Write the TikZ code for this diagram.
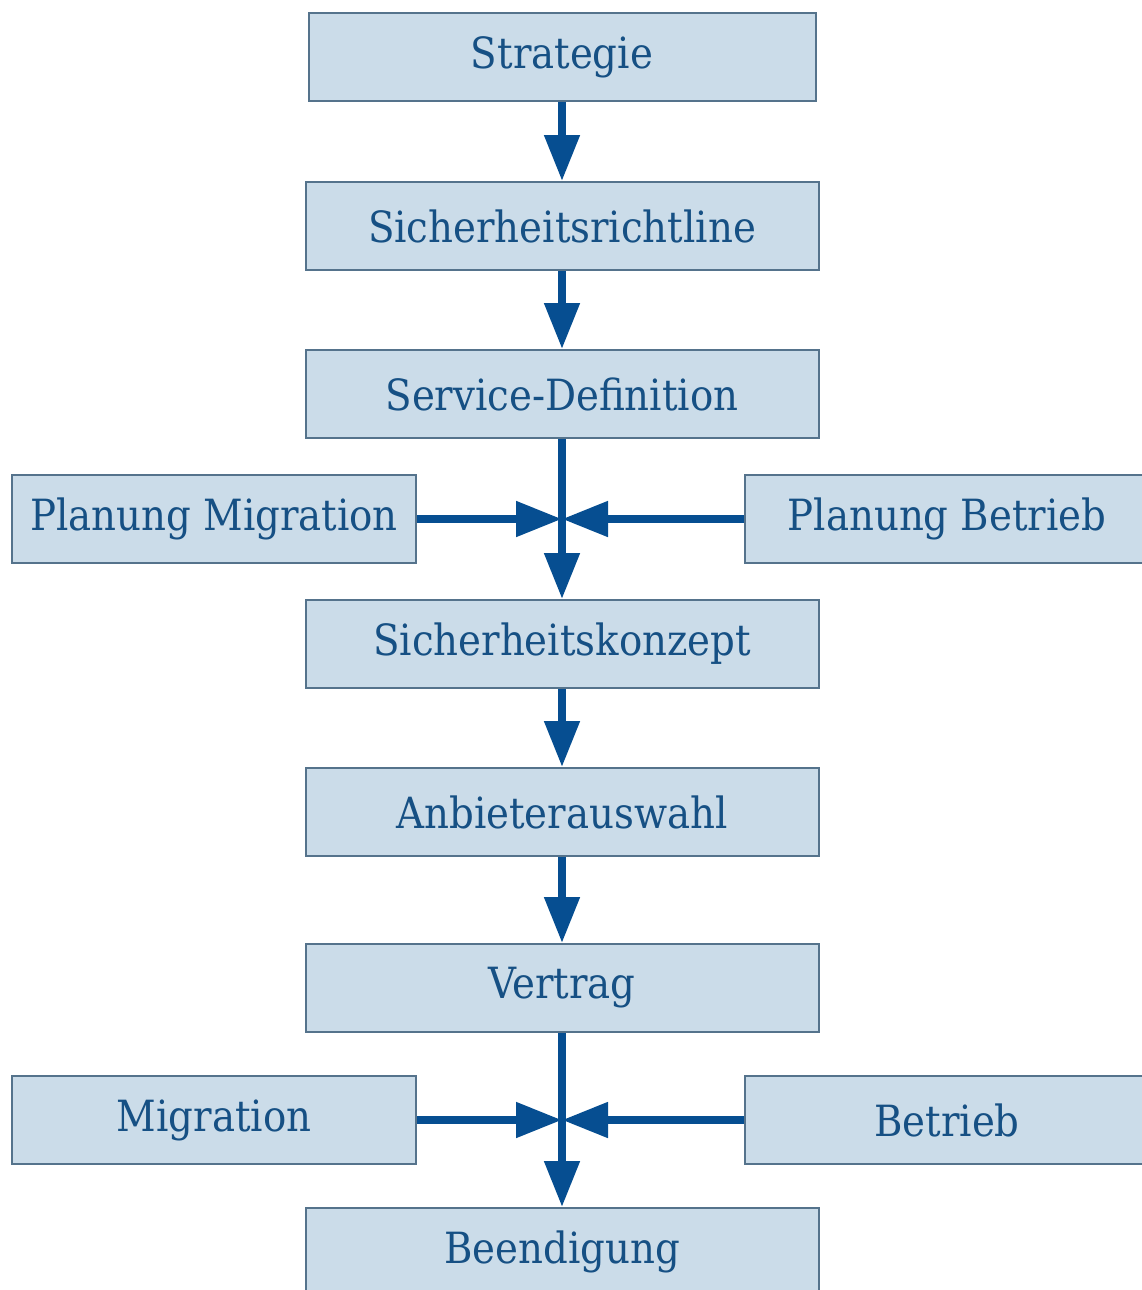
\documentclass[tikz,border=0pt]{standalone}
\usepackage{fontspec}
\setmainfont{DejaVu Serif Condensed}
\usepackage{tikz}
\usetikzlibrary{arrows.meta}
\definecolor{boxfill}{RGB}{203,220,233}
\definecolor{boxline}{RGB}{85,115,140}
\definecolor{boxtext}{RGB}{22,80,132}
\definecolor{flowblue}{RGB}{6,78,145}
\tikzstyle{stage}=[draw=boxline, fill=boxfill, line width=1pt, text=boxtext, font=\fontsize{21.5}{25}\selectfont, minimum width=256.5pt, minimum height=44pt, inner sep=0pt]
\tikzstyle{side}=[stage, minimum width=202pt]
\tikzstyle{flow}=[draw=flowblue, line width=4pt, -{Triangle[length=23pt, width=17pt]}]

\begin{document}
\begin{tikzpicture}[x=0.5pt, y=-0.5pt]
\useasboundingbox (0,0) rectangle (1141,1290);
% the main column
\node[stage, minimum width=253.5pt] (S1) at (562, 57) {Strategie};
\node[stage] (S2) at (562, 226) {Sicherheitsrichtline};
\node[stage] (S3) at (562, 394) {Service-Definition};
\node[stage] (S4) at (562, 644) {Sicherheitskonzept};
\node[stage] (S5) at (562, 812) {Anbieterauswahl};
\node[stage] (S6) at (562, 988) {Vertrag};
\node[stage] (S7) at (562, 1252) {Beendigung};
% the side boxes
\node[side] (P1) at (214, 519) {Planung Migration};
\node[side] (P2) at (947, 519) {Planung Betrieb};
\node[side] (M1) at (214, 1120) {Migration};
\node[side] (M2) at (947, 1120) {Betrieb};
% the junctions
\coordinate (J1) at (562, 519);
\coordinate (J2) at (562, 1120);
% the arrows
\draw[flow] (S1) -- (S2);
\draw[flow] (S2) -- (S3);
\draw[flow] (S3) -- (S4);
\draw[flow] (S4) -- (S5);
\draw[flow] (S5) -- (S6);
\draw[flow] (S6) -- (S7);
\draw[flow] (P1) -- (J1);
\draw[flow] (P2) -- (J1);
\draw[flow] (M1) -- (J2);
\draw[flow] (M2) -- (J2);
\end{tikzpicture}
\end{document}
